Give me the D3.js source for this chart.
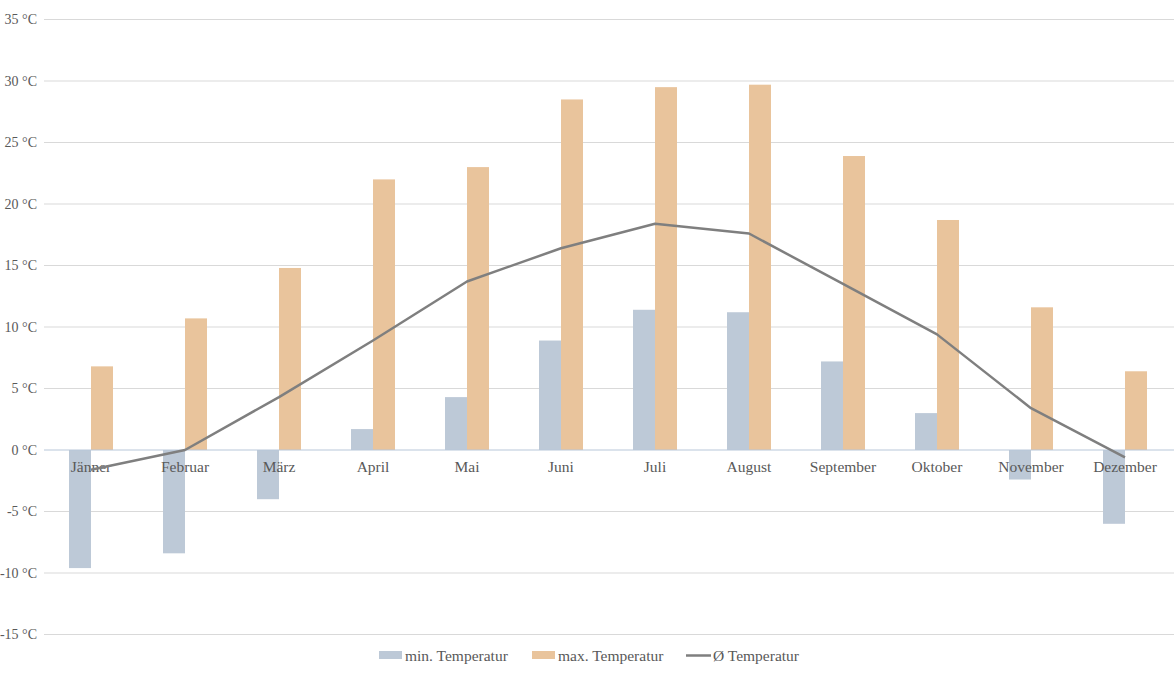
<!DOCTYPE html>
<html><head><meta charset="utf-8">
<script src="https://cdn.jsdelivr.net/npm/d3@7"></script>
<style>body{margin:0;background:#fff}svg{display:block}</style>
</head><body><svg id="c" width="1174" height="675"></svg>
<script>
const months = ["Jänner","Februar","März","April","Mai","Juni","Juli","August","September","Oktober","November","Dezember"];
const minTemp = [-9.6,-8.4,-4.0,1.7,4.3,8.9,11.4,11.2,7.2,3.0,-2.4,-6.0];
const maxTemp = [6.8,10.7,14.8,22.0,23.0,28.5,29.5,29.7,23.9,18.7,11.6,6.4];
const avgTemp = [-1.6,0.0,4.3,8.9,13.7,16.4,18.4,17.6,13.5,9.4,3.4,-0.6];
const yTicks = [35,30,25,20,15,10,5,0,-5,-10,-15];
const legendLabels = ["min. Temperatur","max. Temperatur","Ø Temperatur"];

const svg = d3.select("#c");
const font = "'Liberation Serif', serif";
const x = d3.scaleBand().domain(months).range([44,1172]);
const y = d3.scaleLinear().domain([-15,35]).range([634.5,19.5]);
const bw = 22;

// gridlines
svg.append("g").selectAll("line").data(yTicks.filter(d=>d!==0)).join("line")
  .attr("x1",44).attr("x2",1174).attr("y1",d=>y(d)).attr("y2",d=>y(d))
  .attr("stroke","#d9d9d9").attr("stroke-width",1);

// y labels
svg.append("g").selectAll("text").data(yTicks).join("text")
  .attr("x",37).attr("y",d=>y(d)).attr("dy","0.35em").attr("text-anchor","end")
  .attr("font-family",font).attr("font-size",14).attr("fill","#595959")
  .text(d=>d+" °C");

// bars
const cx = m => x(m)+x.bandwidth()/2;
svg.append("g").selectAll("rect").data(months).join("rect")
  .attr("x",m=>cx(m)-bw).attr("width",bw)
  .attr("y",(m,i)=>y(Math.max(0,minTemp[i]))).attr("height",(m,i)=>Math.abs(y(minTemp[i])-y(0)))
  .attr("fill","#bdc9d7");
svg.append("g").selectAll("rect").data(months).join("rect")
  .attr("x",m=>cx(m)).attr("width",bw)
  .attr("y",(m,i)=>y(Math.max(0,maxTemp[i]))).attr("height",(m,i)=>Math.abs(y(maxTemp[i])-y(0)))
  .attr("fill","#e9c49c");

// zero line
svg.append("line").attr("x1",44).attr("x2",1174).attr("y1",y(0)).attr("y2",y(0))
  .attr("stroke","#b8c7d9").attr("stroke-width",1);

// x labels
svg.append("g").selectAll("text").data(months).join("text")
  .attr("x",m=>cx(m)).attr("y",y(0)+17).attr("dy","0.35em").attr("text-anchor","middle")
  .attr("font-family",font).attr("font-size",15.5).attr("fill","#595959")
  .text(m=>m);

// avg line
const line = d3.line().x((d,i)=>cx(months[i])).y(d=>y(d));
svg.append("path").datum(avgTemp).attr("d",line).attr("fill","none")
  .attr("stroke","#7f7f7f").attr("stroke-width",2.5).attr("stroke-linejoin","round");

// legend
const lg = svg.append("g").attr("font-family",font).attr("font-size",15.5).attr("fill","#595959");
const lx = [379,532,686];
lg.append("rect").attr("x",lx[0]).attr("y",651).attr("width",23).attr("height",8).attr("fill","#bdc9d7");
lg.append("rect").attr("x",lx[1]).attr("y",651).attr("width",23).attr("height",8).attr("fill","#e9c49c");
lg.append("line").attr("x1",lx[2]).attr("x2",lx[2]+25).attr("y1",655.5).attr("y2",655.5).attr("stroke","#7f7f7f").attr("stroke-width",2.5);
lg.selectAll("text").data(legendLabels).join("text")
  .attr("x",(d,i)=>lx[i]+(i===2?27:26)).attr("y",656).attr("dy","0.35em").text(d=>d);
</script></body></html>
